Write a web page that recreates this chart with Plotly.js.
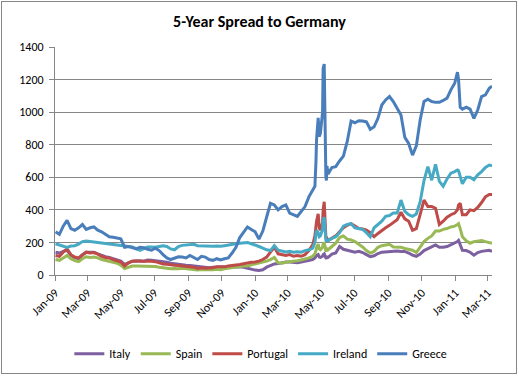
<!DOCTYPE html>
<html>
<head>
<meta charset="utf-8">
<script src="https://cdn.plot.ly/plotly-3.0.1.min.js"></script>
<style>
html,body{margin:0;padding:0;background:#fff;}
#frame{position:absolute;left:1px;top:1px;width:514px;height:371px;border:1px solid #868686;}
#chart{position:absolute;left:0;top:0;width:519px;height:376px;}
</style>
</head>
<body>
<div id="frame"></div>
<div id="chart"></div>
<script>
const dates = [
"2009-01-02","2009-01-09","2009-01-16","2009-01-23","2009-01-30","2009-02-06","2009-02-13","2009-02-20","2009-02-27","2009-03-06",
"2009-03-13","2009-03-20","2009-03-27","2009-04-03","2009-04-10","2009-04-17","2009-04-24","2009-05-01","2009-05-08","2009-05-15",
"2009-05-22","2009-05-29","2009-06-05","2009-06-12","2009-06-19","2009-06-26","2009-07-03","2009-07-10","2009-07-17","2009-07-24",
"2009-07-31","2009-08-07","2009-08-14","2009-08-21","2009-08-28","2009-09-04","2009-09-11","2009-09-18","2009-09-25","2009-10-02",
"2009-10-09","2009-10-16","2009-10-23","2009-10-30","2009-11-06","2009-11-13","2009-11-20","2009-11-27","2009-12-04","2009-12-11",
"2009-12-18","2009-12-25","2010-01-01","2010-01-08","2010-01-15","2010-01-22","2010-01-29","2010-02-05","2010-02-12","2010-02-19",
"2010-02-26","2010-03-05","2010-03-12","2010-03-19","2010-03-26","2010-04-02","2010-04-09",
"2010-04-16",
"2010-04-20","2010-04-22","2010-04-23","2010-04-26","2010-04-28","2010-04-30","2010-05-04","2010-05-05","2010-05-07","2010-05-10","2010-05-11","2010-05-12","2010-05-14",
"2010-05-21","2010-05-28","2010-06-04","2010-06-11","2010-06-18","2010-06-25","2010-07-02","2010-07-09",
"2010-07-16","2010-07-23","2010-07-30","2010-08-06","2010-08-13","2010-08-20","2010-08-27","2010-09-03","2010-09-10","2010-09-17",
"2010-09-24","2010-10-01","2010-10-08","2010-10-15","2010-10-22","2010-10-29","2010-11-05","2010-11-12","2010-11-19","2010-11-26",
"2010-12-03","2010-12-10","2010-12-17","2010-12-24","2010-12-31",
"2011-01-05","2011-01-07","2011-01-10",
"2011-01-14","2011-01-21","2011-01-28","2011-02-04","2011-02-11","2011-02-18","2011-02-25","2011-03-04","2011-03-09"
];

const italy = [
140,135,145,152,120,105,100,125,140,138,
140,130,120,112,108,100,95,85,65,75,
85,85,88,85,92,90,88,85,82,78,
72,68,65,62,60,58,55,52,52,50,
45,47,48,46,48,48,50,50,50,48,
42,35,30,28,32,48,58,68,70,75,
80,80,78,75,80,85,90,
95,
105,115,120,125,110,108,115,125,130,105,100,110,108,
128,135,175,158,152,148,140,145,
138,125,112,118,132,140,142,148,150,148,
145,145,135,122,115,128,150,162,170,185,
170,170,175,185,195,
205,212,185,
152,150,140,122,138,145,150,152,145
];

const spain = [
95,90,105,120,100,88,82,100,112,108,
110,105,95,88,85,78,72,60,40,50,
55,55,55,52,55,55,52,48,45,40,
38,40,38,42,40,35,32,30,33,32,
30,32,35,33,38,42,48,50,52,55,
55,62,68,72,80,85,95,108,75,72,
78,80,82,88,92,98,105,
115,
130,150,170,190,160,155,170,190,200,150,145,160,155,
175,195,230,240,220,215,205,190,
172,150,135,145,170,180,185,188,172,172,
170,163,158,152,138,170,205,225,240,270,
270,280,285,295,300,
310,315,285,
235,210,195,205,210,212,205,198,195
];

const portugal = [
120,115,140,160,125,110,105,120,140,135,
138,128,115,108,105,95,88,80,55,75,
85,88,85,85,88,85,82,75,68,66,
65,60,58,55,55,52,48,40,45,42,
42,45,50,48,50,55,60,62,65,70,
72,78,80,85,95,110,140,170,130,125,
120,125,115,120,115,125,150,
185,
240,300,330,375,290,275,320,400,450,235,220,225,212,
225,240,265,290,305,315,300,285,
282,275,260,235,255,275,290,305,320,340,
385,345,330,275,285,370,460,420,420,410,
310,330,355,370,380,
400,430,440,
370,370,400,395,415,445,480,495,495
];

const ireland = [
192,186,180,170,178,180,190,205,208,205,
205,200,200,195,190,188,185,182,180,176,
172,162,152,162,172,172,170,175,180,175,
160,155,175,182,185,188,188,180,178,176,
175,176,178,176,180,185,188,192,195,198,
200,192,185,175,165,155,150,180,152,148,
142,145,140,142,140,150,155,
165,
200,250,275,260,235,240,280,330,355,215,205,215,210,
225,235,260,300,310,315,290,285,
280,260,235,290,310,330,360,365,380,380,
460,390,370,360,375,450,580,665,582,680,
575,545,590,625,635,
645,640,600,
560,600,600,585,615,635,660,675,670
];

const greece = [
265,250,300,335,285,275,290,310,280,290,
295,275,265,250,235,232,228,222,170,175,
168,160,170,168,158,152,165,150,125,105,
95,105,112,110,105,120,105,95,115,110,
95,90,100,92,100,105,135,170,230,260,
295,280,265,220,270,356,440,430,400,420,
430,380,370,360,390,420,480,
520,
545,700,830,965,850,870,1000,1270,1295,605,580,670,620,
660,665,700,730,820,945,935,947,
945,940,895,910,962,1044,1075,1096,1065,1024,
983,845,808,736,793,952,1065,1079,1065,1060,
1060,1072,1086,1137,1178,
1245,1200,1030,
1018,1030,1018,962,1013,1096,1106,1147,1160
];

const seriesNames = ["Italy","Spain","Portugal","Ireland","Greece"];
const seriesValues = [italy, spain, portugal, ireland, greece];
const seriesColors = ["#7D60A0","#98B954","#BE4B48","#46AAC5","#4A7EBB"];

const FONT = "Carlito, Calibri, Lato, sans-serif";

const traces = seriesNames.map((n, i) => ({
  type: "scatter",
  mode: "lines",
  name: n,
  x: dates,
  y: seriesValues[i],
  line: {color: seriesColors[i], width: 3, shape: "linear"},
  hoverinfo: "x+y+name"
}));

const layout = {
  width: 519,
  height: 376,
  paper_bgcolor: "rgba(0,0,0,0)",
  plot_bgcolor: "rgba(0,0,0,0)",
  margin: {l: 55, r: 27, t: 47, b: 101, pad: 0, autoexpand: false},
  font: {family: FONT, size: 12, color: "#000"},
  title: {
    text: "5-Year Spread to Germany",
    font: {family: FONT, size: 16, weight: "bold", color: "#000"},
    x: 0.5, xref: "container", xanchor: "center",
    y: 0.943, yref: "container", yanchor: "middle"
  },
  xaxis: {
    type: "date",
    range: ["2009-01-01", "2011-03-09"],
    tick0: "2009-01-01",
    dtick: "M2",
    tickformat: "%b-%y",
    tickangle: -45,
    ticks: "outside",
    ticklen: 5,
    tickcolor: "#868686",
    showline: true,
    linecolor: "#868686",
    linewidth: 1,
    showgrid: false,
    zeroline: false,
    tickfont: {family: FONT, size: 12, color: "#000"}
  },
  yaxis: {
    range: [0, 1400],
    tick0: 0,
    dtick: 200,
    ticks: "outside",
    ticklen: 5,
    tickcolor: "#868686",
    showline: true,
    linecolor: "#868686",
    linewidth: 1,
    showgrid: true,
    gridcolor: "#868686",
    gridwidth: 1,
    zeroline: false,
    ticklabelstandoff: 3,
    tickfont: {family: FONT, size: 12, color: "#000"}
  },
  showlegend: true,
  legend: {
    orientation: "h",
    x: 0.471, xanchor: "center",
    y: -0.3455, yanchor: "middle",
    font: {family: FONT, size: 12, color: "#000"},
    bgcolor: "rgba(0,0,0,0)",
    itemclick: false
  }
};

Plotly.newPlot("chart", traces, layout, {staticPlot: true, displayModeBar: false});
</script>
</body>
</html>
